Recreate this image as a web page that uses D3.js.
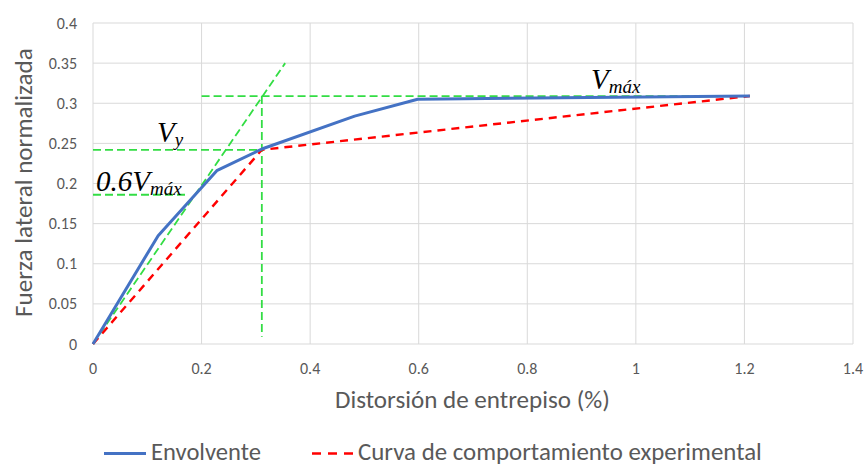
<!DOCTYPE html>
<html><head><meta charset="utf-8">
<script src="https://cdn.jsdelivr.net/npm/d3@7"></script>
<style>body{margin:0;background:#fff}svg{display:block}</style>
</head><body>
<script>
// Data
const envDrift = [0, 0.12, 0.228, 0.311, 0.482, 0.598, 1.21];
const envForce = [0, 0.135, 0.216, 0.243, 0.284, 0.305, 0.309];
const expDrift = [0, 0.311, 1.21];
const expForce = [0, 0.242, 0.309];
const xTicks = [0, 0.2, 0.4, 0.6, 0.8, 1, 1.2, 1.4];
const yTicks = [0, 0.05, 0.1, 0.15, 0.2, 0.25, 0.3, 0.35, 0.4];
const vmax = 0.309, vy = 0.242, dy = 0.311, v06 = 0.186;
// guide segments [x1,y1,x2,y2]
const guides = [
  [0, 0, 0.354, 0.35],
  [0, v06, 0.17, v06],
  [0, vy, dy, vy],
  [0.2, vmax, 1.197, vmax],
  [dy, vmax, dy, 0.009]
];

const W = 866, H = 465;
const svg = d3.select("body").append("svg").attr("width", W).attr("height", H);
const font = "Carlito, Lato, 'Open Sans', sans-serif";
const x = d3.scaleLinear().domain([0, 1.4]).range([93, 853]);
const y = d3.scaleLinear().domain([0, 0.4]).range([344, 23]);

// fit a text element to a target width by adjusting font size
function fit(sel, width) {
  const node = sel.node();
  const fs = +sel.attr("font-size");
  const w = node.getComputedTextLength();
  if (w > 0) sel.attr("font-size", fs * width / w);
  return sel;
}

// grid
svg.append("g").selectAll("line").data(xTicks).join("line")
  .attr("x1", d => x(d)).attr("x2", d => x(d)).attr("y1", y(0)).attr("y2", y(0.4))
  .attr("stroke", "#d9d9d9").attr("stroke-width", 1);
svg.append("g").selectAll("line").data(yTicks).join("line")
  .attr("y1", d => y(d)).attr("y2", d => y(d)).attr("x1", x(0)).attr("x2", x(1.4))
  .attr("stroke", "#d9d9d9").attr("stroke-width", 1);

// tick labels
svg.append("g").selectAll("text").data(xTicks).join("text")
  .attr("x", d => x(d)).attr("y", 374).attr("text-anchor", "middle")
  .attr("font-family", font).attr("font-size", 16).attr("fill", "#595959")
  .text(d => d3.format("~g")(d));
svg.append("g").selectAll("text").data(yTicks).join("text")
  .attr("x", 77).attr("y", d => y(d) + 5.5).attr("text-anchor", "end")
  .attr("font-family", font).attr("font-size", 16).attr("fill", "#595959")
  .text(d => d3.format("~g")(d));

// axis titles
fit(svg.append("text").attr("x", 335).attr("y", 408)
  .attr("font-family", font).attr("font-size", 20).attr("fill", "#595959")
  .text("Distorsión de entrepiso (%)"), 275);
fit(svg.append("text").attr("transform", `translate(32,317) rotate(-90)`)
  .attr("font-family", font).attr("font-size", 20).attr("fill", "#595959")
  .text("Fuerza lateral normalizada"), 269);

// guides
svg.append("g").selectAll("line").data(guides).join("line")
  .attr("x1", d => x(d[0])).attr("y1", d => y(d[1]))
  .attr("x2", d => x(d[2])).attr("y2", d => y(d[3]))
  .attr("stroke", "#33dd44").attr("stroke-width", 1.8).attr("stroke-dasharray", "8,4");

const line = d3.line().x(d => x(d[0])).y(d => y(d[1]));
svg.append("path").datum(expDrift.map((d, i) => [d, expForce[i]]))
  .attr("d", line).attr("fill", "none").attr("stroke", "#ff0000")
  .attr("stroke-width", 2.4).attr("stroke-dasharray", "8,6");
svg.append("path").datum(envDrift.map((d, i) => [d, envForce[i]]))
  .attr("d", line).attr("fill", "none").attr("stroke", "#4472c4")
  .attr("stroke-width", 3).attr("stroke-linejoin", "round");

// annotations
const tfont = "'Liberation Serif', 'DejaVu Serif', serif";
function label(xp, yp, main, sub) {
  const t = svg.append("text").attr("x", xp).attr("y", yp)
    .attr("font-family", tfont).attr("font-style", "italic").attr("font-size", 29).attr("fill", "#000");
  t.append("tspan").text(main);
  t.append("tspan").attr("font-size", 19).attr("dy", 4).text(sub);
}
label(157, 142, "V", "y");
label(96, 191, "0.6V", "máx");
label(591, 89, "V", "máx");

// legend
svg.append("line").attr("x1", 104).attr("x2", 146).attr("y1", 453.5).attr("y2", 453.5)
  .attr("stroke", "#4472c4").attr("stroke-width", 3);
fit(svg.append("text").attr("x", 151).attr("y", 459.5).attr("font-family", font)
  .attr("font-size", 21).attr("fill", "#595959").text("Envolvente"), 110);
svg.append("line").attr("x1", 312).attr("x2", 354).attr("y1", 453.5).attr("y2", 453.5)
  .attr("stroke", "#ff0000").attr("stroke-width", 2.4).attr("stroke-dasharray", "9,7");
fit(svg.append("text").attr("x", 358).attr("y", 459.5).attr("font-family", font)
  .attr("font-size", 21).attr("fill", "#595959").text("Curva de comportamiento experimental"), 404);
</script>
</body></html>
